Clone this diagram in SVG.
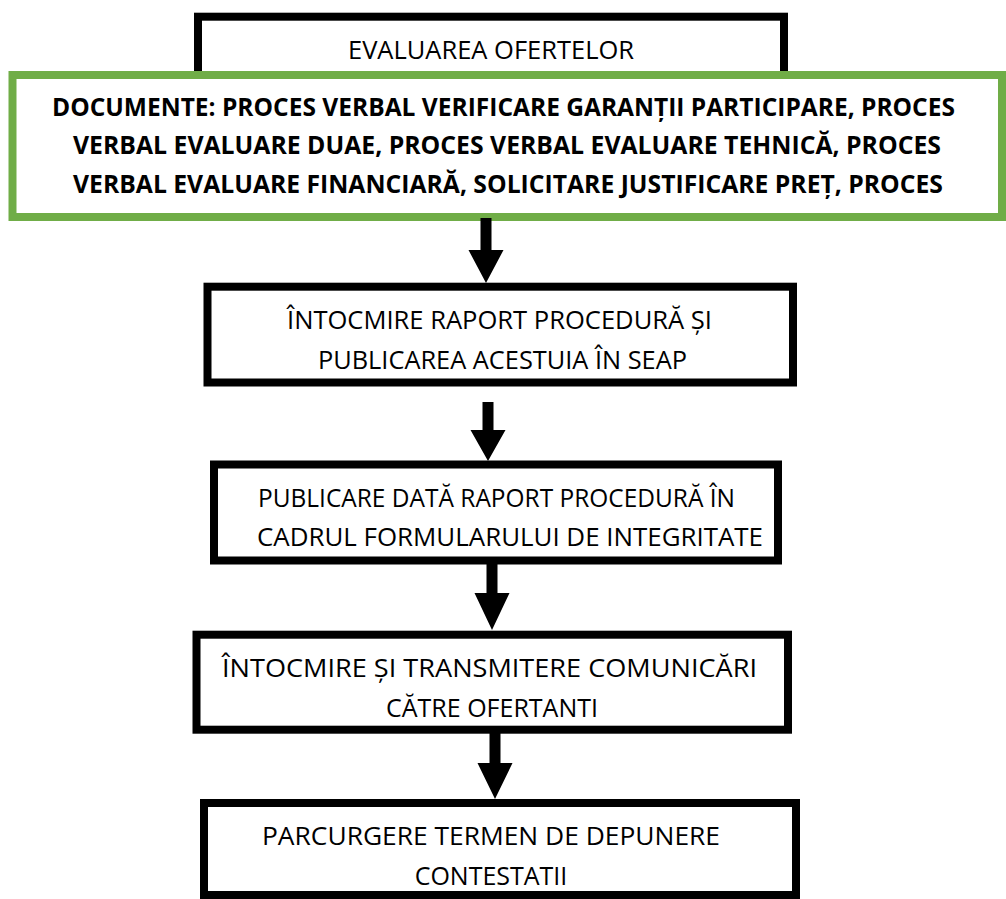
<svg xmlns="http://www.w3.org/2000/svg" width="1006" height="899" viewBox="0 0 1006 899">
<style>
.box{fill:#fff;stroke:#000;stroke-width:8}
.doc{fill:#fff;stroke:#70AD47;stroke-width:8}
.t{font-family:"Open Sans","Liberation Sans",sans-serif;font-size:25px;fill:#000;text-anchor:middle}
.b{font-weight:bold;font-size:24.5px}
.arr{fill:#000}
</style>
<rect width="1006" height="899" fill="#fff"/>
<g id="n1">
<rect class="box" x="198" y="16.7" width="586" height="100"/>
<text class="t" x="491" y="59.3" textLength="286" lengthAdjust="spacingAndGlyphs">EVALUAREA OFERTELOR</text>
</g>
<g id="n_docs">
<rect class="doc" x="12.5" y="75" width="989.5" height="142"/>
<text class="t b" x="503.5" y="116" textLength="903" lengthAdjust="spacingAndGlyphs">DOCUMENTE: PROCES VERBAL VERIFICARE GARANȚII PARTICIPARE, PROCES</text>
<text class="t b" x="507" y="154.3" textLength="868" lengthAdjust="spacingAndGlyphs">VERBAL EVALUARE DUAE, PROCES VERBAL EVALUARE TEHNICĂ, PROCES</text>
<text class="t b" x="508" y="193.3" textLength="870" lengthAdjust="spacingAndGlyphs">VERBAL EVALUARE FINANCIARĂ, SOLICITARE JUSTIFICARE PREȚ, PROCES</text>
</g>
<g id="n2">
<rect class="box" x="207.5" y="286.7" width="585.5" height="95.8"/>
<text class="t" x="499.5" y="329.3" textLength="425" lengthAdjust="spacingAndGlyphs">ÎNTOCMIRE RAPORT PROCEDURĂ ȘI</text>
<text class="t" x="502.5" y="369" textLength="369" lengthAdjust="spacingAndGlyphs">PUBLICAREA ACESTUIA ÎN SEAP</text>
</g>
<g id="n3">
<rect class="box" x="214" y="464.5" width="564" height="96"/>
<text class="t" x="496.5" y="506.7" textLength="477" lengthAdjust="spacingAndGlyphs">PUBLICARE DATĂ RAPORT PROCEDURĂ ÎN</text>
<text class="t" x="510" y="546" textLength="506" lengthAdjust="spacingAndGlyphs">CADRUL FORMULARULUI DE INTEGRITATE</text>
</g>
<g id="n4">
<rect class="box" x="196.5" y="634.7" width="591.5" height="95"/>
<text class="t" x="489.5" y="676.7" textLength="535" lengthAdjust="spacingAndGlyphs">ÎNTOCMIRE ȘI TRANSMITERE COMUNICĂRI</text>
<text class="t" x="492" y="716.7">CĂTRE OFERTANTI</text>
</g>
<g id="n5">
<rect class="box" x="204" y="803" width="592" height="92"/>
<text class="t" x="491" y="845" textLength="458" lengthAdjust="spacingAndGlyphs">PARCURGERE TERMEN DE DEPUNERE</text>
<text class="t" x="491" y="885">CONTESTATII</text>
</g>
<g id="connectors">
<polygon class="arr" points="480.5,218 491.5,218 491.5,250 503.5,250 486,283 468.5,250 480.5,250"/>
<polygon class="arr" points="482.5,402 493.5,402 493.5,430 505.5,430 488,461 470.5,430 482.5,430"/>
<polygon class="arr" points="486.5,564 497.5,564 497.5,593 509.5,593 492,630 474.5,593 486.5,593"/>
<polygon class="arr" points="489.5,733 500.5,733 500.5,763 512.5,763 495,799 477.5,763 489.5,763"/>
</g>
</svg>
